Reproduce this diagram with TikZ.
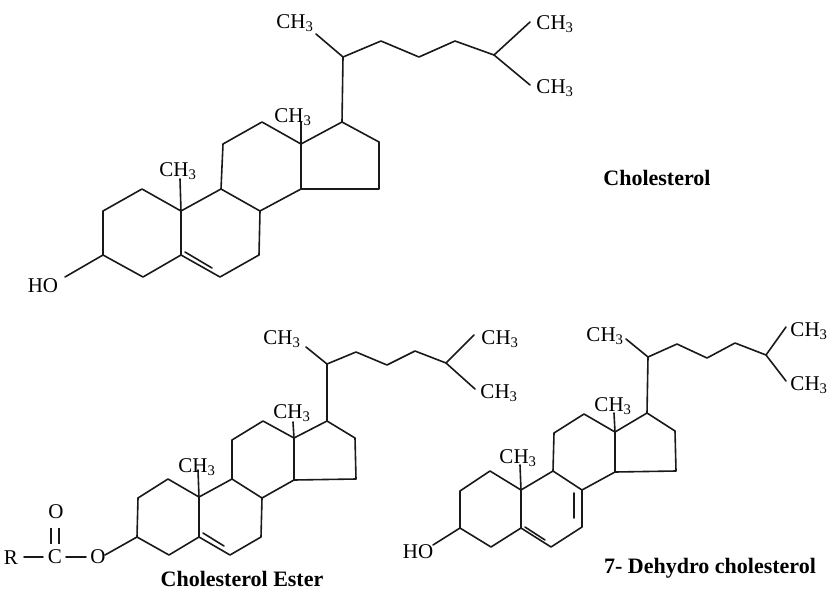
\documentclass[tikz,border=0pt]{standalone}
\usepackage{fontspec}
\setmainfont{Liberation Serif}
\usepackage{tikz}
\usetikzlibrary{positioning}
\tikzstyle{bond} = [line width=1.6pt, line join=round, line cap=round, draw=black!90]
\tikzstyle{thinbond} = [line width=1.1pt, draw=black!90]
\tikzstyle{atom} = [inner sep=0pt, font=\fontsize{21}{24}\selectfont]
\tikzstyle{title} = [inner sep=0pt, font=\fontsize{22}{26}\selectfont\bfseries]
\newcommand{\methyl}{CH\textsubscript{3}}

\begin{document}
\begin{tikzpicture}[x=1pt, y=-1pt]
		\useasboundingbox (0,0) rectangle (827,592);
		% cholesterol
		\foreach \n/\x/\y in {1/142/189, 2/103/211, 3/103/255, 4/143/277, 5/181/255, 6/220/277, 7/259/255, 8/260/211, 9/221/189, 10/181/211,
			11/223/144, 12/262/122, 13/301/144, 14/301/189, 15/379/189, 16/379/142, 17/342/122, 20/343/57, 22/381/41, 23/419/57, 24/455/41, 25/494/55,
			m10/180/179, m13/301/122, m21/316/34, m26/530/22, m27/530/85, o/65/277, da/185/252, db/212/268}
			\coordinate (a\n) at (\x,\y);
		% ester
		\foreach \n/\x/\y in {1/168/479, 2/138/498, 3/137/537, 4/169/555, 5/199/537, 6/230/555, 7/261/537, 8/262/498, 9/232/479, 10/199/497,
			11/232/440, 12/263/421, 13/294/438, 14/294/480, 15/356/479, 16/355/438, 17/327/421, 20/327/364, 22/356/352, 23/387/365, 24/415/351, 25/446/363,
			m10/198/470, m13/293/422, m21/306/347, m26/474/335, m27/475/389, o/105/555, da/203/533, db/224/546,
			ra/24/557, rb/43/557, ca/66/557, cb/86/557, ea/51/528, eb/51/544, fa/59/528, fb/59/544}
			\coordinate (b\n) at (\x,\y);
		% dehydro
		\foreach \n/\x/\y in {1/490/471, 2/460/491, 3/460/528, 4/491/547, 5/521/528, 6/551/547, 7/582/527, 8/582/490, 9/553/471, 10/521/490,
			11/554/433, 12/584/414, 13/615/432, 14/615/472, 15/676/471, 16/675/431, 17/647/413, 20/648/357, 22/677/344, 23/707/358, 24/735/343, 25/766/355,
			m10/520/465, m13/614/413, m21/626/339, m26/786/327, m27/786/381, o/433/545, da/525/527, db/545/540, ga/574/493, gb/574/518}
			\coordinate (c\n) at (\x,\y);
		% same skeleton three times
		\foreach \p in {a,b,c} {
			\draw [bond] (\p3) -- (\p2) -- (\p1) -- (\p10) -- (\p5) -- (\p4) -- (\p3);
			\draw [bond] (\p5) -- (\p6) -- (\p7) -- (\p8) -- (\p9) -- (\p10);
			\draw [bond] (\p9) -- (\p11) -- (\p12) -- (\p13) -- (\p14) -- (\p8);
			\draw [bond] (\p13) -- (\p17) -- (\p16) -- (\p15) -- (\p14);
			\draw [bond] (\p17) -- (\p20) -- (\p22) -- (\p23) -- (\p24) -- (\p25) -- (\p m26);
			\draw [bond] (\p25) -- (\p m27);
			\draw [bond] (\p20) -- (\p m21);
			\draw [bond] (\p10) -- (\p m10);
			\draw [bond] (\p13) -- (\p m13);
			\draw [bond] (\p3) -- (\p o);
			\draw [bond] (\p da) -- (\p db);
		}
		\draw [bond] (cga) -- (cgb);
		\draw [bond] (bra) -- (brb);
		\draw [bond] (bca) -- (bcb);
		\draw [thinbond] (bea) -- (beb);
		\draw [thinbond] (bfa) -- (bfb);
		% labels
		\node (LabelA1) [atom] at (295,23) {\methyl};
		\node (LabelA2) [atom] at (178,171) {\methyl};
		\node (LabelA3) [atom] at (293,117) {\methyl};
		\node (LabelA4) [atom] at (555,24) {\methyl};
		\node (LabelA5) [atom] at (555,88) {\methyl};
		\node (LabelA6) [atom] at (43,286) {HO};
		\node (TitleA) [title] at (657,178) {Cholesterol};
		\node (LabelB1) [atom] at (282,339) {\methyl};
		\node (LabelB2) [atom] at (197,467) {\methyl};
		\node (LabelB3) [atom] at (292,413) {\methyl};
		\node (LabelB4) [atom] at (500,339) {\methyl};
		\node (LabelB5) [atom] at (499,393) {\methyl};
		\node (LabelB6) [atom] at (98,557) {O};
		\node (LabelB7) [atom] at (55,557) {C};
		\node (LabelB8) [atom] at (11,558) {R};
		\node (LabelB9) [atom] at (56,512) {O};
		\node (TitleB) [title] at (242,579) {Cholesterol Ester};
		\node (LabelC1) [atom] at (605,336) {\methyl};
		\node (LabelC2) [atom] at (518,458) {\methyl};
		\node (LabelC3) [atom] at (613,406) {\methyl};
		\node (LabelC4) [atom] at (809,331) {\methyl};
		\node (LabelC5) [atom] at (809,385) {\methyl};
		\node (LabelC6) [atom] at (418,552) {HO};
		\node (TitleC) [title] at (710,568) {7- Dehydro cholesterol};
\end{tikzpicture}
\end{document}
